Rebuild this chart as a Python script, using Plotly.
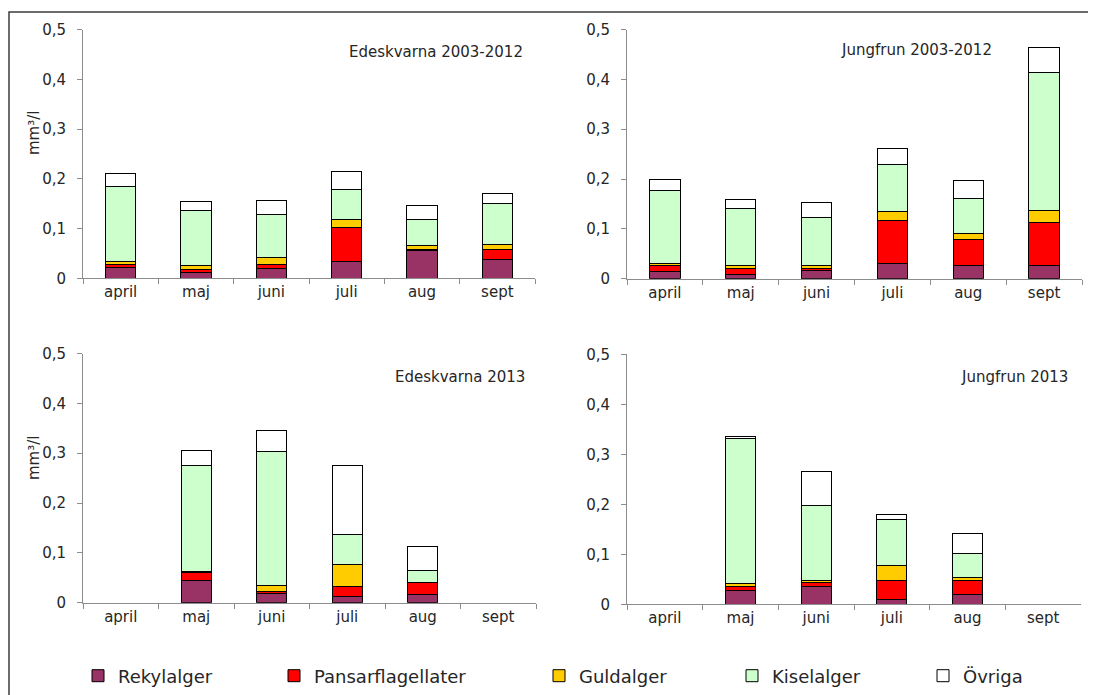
import plotly.graph_objects as go

months = ["april", "maj", "juni", "juli", "aug", "sept"]
groups = ["Rekylalger", "Pansarflagellater", "Guldalger", "Kiselalger", "Övriga"]
colors = ["#993366", "#FF0000", "#FFCC00", "#CCFFCC", "#FFFFFF"]

# Edeskvarna 2003-2012 (mm3/l)
ede_0312_rekyl = [0.022, 0.012, 0.019, 0.033, 0.056, 0.037]
ede_0312_pansar = [0.006, 0.006, 0.008, 0.070, 0.001, 0.021]
ede_0312_guld = [0.005, 0.008, 0.015, 0.016, 0.009, 0.009]
ede_0312_kisel = [0.151, 0.111, 0.087, 0.059, 0.053, 0.083]
ede_0312_ovriga = [0.027, 0.017, 0.028, 0.037, 0.027, 0.020]

# Jungfrun 2003-2012
jun_0312_rekyl = [0.015, 0.009, 0.016, 0.031, 0.027, 0.027]
jun_0312_pansar = [0.012, 0.011, 0.004, 0.085, 0.051, 0.085]
jun_0312_guld = [0.004, 0.007, 0.006, 0.019, 0.012, 0.024]
jun_0312_kisel = [0.146, 0.114, 0.096, 0.095, 0.071, 0.277]
jun_0312_ovriga = [0.022, 0.018, 0.031, 0.032, 0.036, 0.050]

# Edeskvarna 2013
ede_13_rekyl = [None, 0.044, 0.019, 0.013, 0.017, None]
ede_13_pansar = [None, 0.017, 0.004, 0.019, 0.023, None]
ede_13_guld = [None, 0.001, 0.011, 0.045, 0.001, None]
ede_13_kisel = [None, 0.214, 0.270, 0.060, 0.024, None]
ede_13_ovriga = [None, 0.030, 0.041, 0.139, 0.047, None]

# Jungfrun 2013
jun_13_rekyl = [None, 0.027, 0.035, 0.010, 0.020, None]
jun_13_pansar = [None, 0.009, 0.009, 0.038, 0.028, None]
jun_13_guld = [None, 0.005, 0.003, 0.029, 0.005, None]
jun_13_kisel = [None, 0.291, 0.150, 0.092, 0.048, None]
jun_13_ovriga = [None, 0.004, 0.068, 0.011, 0.040, None]

panels = [
    ("Edeskvarna 2003-2012", [ede_0312_rekyl, ede_0312_pansar, ede_0312_guld, ede_0312_kisel, ede_0312_ovriga]),
    ("Jungfrun 2003-2012", [jun_0312_rekyl, jun_0312_pansar, jun_0312_guld, jun_0312_kisel, jun_0312_ovriga]),
    ("Edeskvarna 2013", [ede_13_rekyl, ede_13_pansar, ede_13_guld, ede_13_kisel, ede_13_ovriga]),
    ("Jungfrun 2013", [jun_13_rekyl, jun_13_pansar, jun_13_guld, jun_13_kisel, jun_13_ovriga]),
]

y_tickvals = [0, 0.1, 0.2, 0.3, 0.4, 0.5]
y_ticktext = ["0", "0,1", "0,2", "0,3", "0,4", "0,5"]
y_title = "mm³/l"

W, H = 1096, 695
OFF = 8  # page body margin
FONT = "DejaVu Sans"
TXT = "#262626"
AX = "#8c8c8c"


def px_x(x):
    return (x - OFF) / W


def px_y(y):
    return (H - (y - OFF)) / H


# pixel boxes (screen coords) of the four plot areas: (left, right, top, bottom)
boxes = [
    (83, 535, 29.5, 278.3),
    (627, 1082, 29.5, 278.7),
    (83, 536, 353.5, 602.7),
    (627, 1081, 354.3, 604.3),
]
title_pos = [(525, 52), (994, 50), (527, 377), (1070, 377)]
legend_x = [78, 274, 539, 732, 923]

fig = go.Figure()

for i, (title, series) in enumerate(panels):
    ax = "" if i == 0 else str(i + 1)
    for j, (name, vals) in enumerate(zip(groups, series)):
        fig.add_trace(go.Bar(
            x=months, y=vals, name=name,
            marker=dict(color=colors[j], line=dict(color="#000000", width=1)),
            xaxis="x" + ax, yaxis="y" + ax,
            showlegend=(i == 0),
            legend=("legend" if j == 0 else "legend" + str(j + 1)),
            legendgroup=name,
        ))

layout = dict(
    width=W, height=H,
    margin=dict(l=0, r=0, t=0, b=0, autoexpand=False),
    paper_bgcolor="white", plot_bgcolor="white",
    barmode="stack", bargap=0.6,
    font=dict(family=FONT, size=15, color=TXT),
    annotations=[], shapes=[],
)

for i, (l, r, t, b) in enumerate(boxes):
    ax = "" if i == 0 else str(i + 1)
    layout["xaxis" + ax] = dict(
        domain=[px_x(l), px_x(r)], anchor="y" + ax,
        type="category", categoryorder="array", categoryarray=months,
        range=[-0.5, 5.5],
        showline=True, linecolor=AX, linewidth=1,
        ticks="outside", tickson="boundaries", ticklen=5, tickcolor=AX,
        showgrid=False, zeroline=False,
        tickfont=dict(family=FONT, size=15, color=TXT),
    )
    layout["yaxis" + ax] = dict(
        domain=[px_y(b), px_y(t)], anchor="x" + ax,
        range=[0, 0.5], tickvals=y_tickvals, ticktext=y_ticktext,
        showline=True, linecolor=AX, linewidth=1,
        ticks="outside", ticklen=5, tickcolor=AX,
        showgrid=False, zeroline=False,
        ticklabelstandoff=8,
        tickfont=dict(family=FONT, size=15, color=TXT),
    )
    tx, ty = title_pos[i]
    layout["annotations"].append(dict(
        text=panels[i][0], xref="paper", yref="paper",
        x=px_x(tx), y=px_y(ty), xanchor="right", yanchor="middle",
        showarrow=False, font=dict(family=FONT, size=15, color=TXT),
    ))

# y axis titles (left column only)
for yc in (133, 458):
    layout["annotations"].append(dict(
        text=y_title, xref="paper", yref="paper",
        x=px_x(34), y=px_y(yc), xanchor="center", yanchor="middle",
        textangle=-90, showarrow=False,
        font=dict(family=FONT, size=15, color=TXT),
    ))

for j in range(5):
    key = "legend" if j == 0 else "legend" + str(j + 1)
    layout[key] = dict(
        orientation="h", x=px_x(legend_x[j]), y=px_y(676),
        xanchor="left", yanchor="middle",
        bgcolor="rgba(0,0,0,0)", borderwidth=0,
        font=dict(family=FONT, size=18, color=TXT),
    )

layout["shapes"].append(dict(
    type="rect", xref="paper", yref="paper",
    x0=px_x(9), x1=px_x(1095), y0=-0.05, y1=px_y(12),
    line=dict(color="#3c3c3c", width=1.5), fillcolor="rgba(0,0,0,0)",
    layer="above",
))

fig.update_layout(**layout)
fig.write_html("out.html")
